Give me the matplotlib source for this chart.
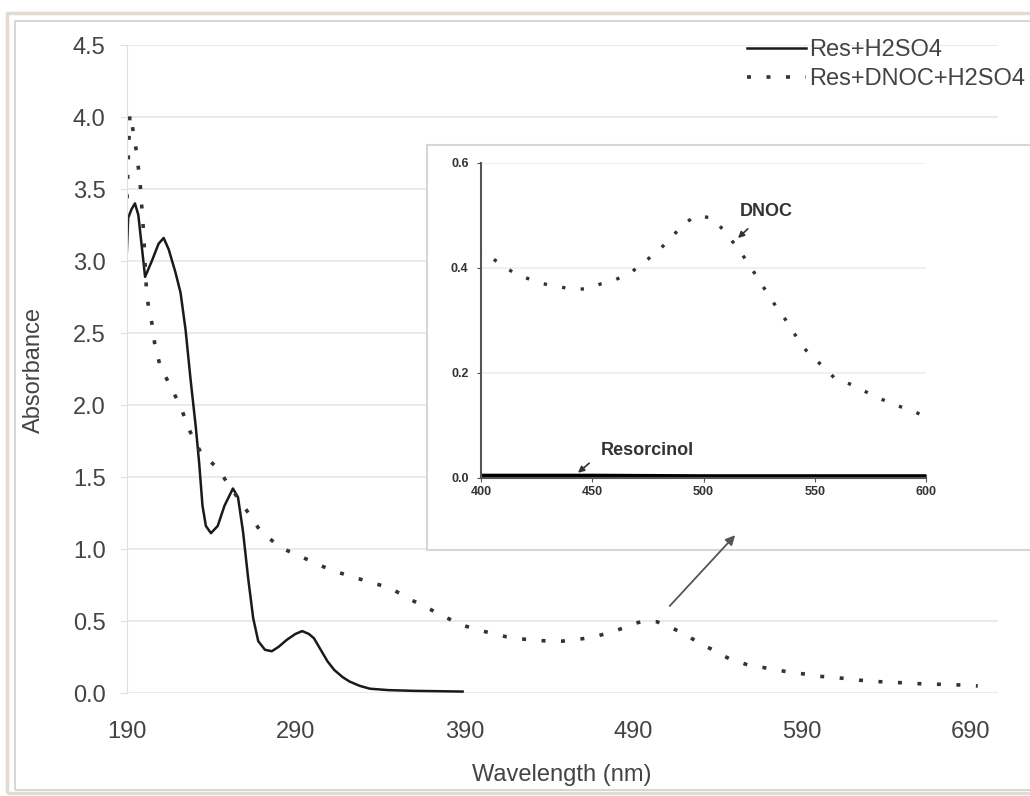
import matplotlib
matplotlib.use("Agg")
from matplotlib import pyplot as plt
from matplotlib.patches import Rectangle

plt.rcParams['font.family'] = ['Liberation Sans', 'DejaVu Sans']

# Res + H2SO4 (solid)
res_nm = [190, 191, 193, 195, 197, 201, 205, 209, 212, 215, 219, 222, 225, 228, 231, 233,
          235, 237, 240, 244, 248, 253, 256, 259, 262, 265, 268, 272, 276, 280, 285, 290,
          294, 298, 301, 305, 309, 313, 318, 322, 328, 334, 345, 360, 389]
res_abs = [3.00, 3.30, 3.36, 3.40, 3.32, 2.89, 3.00, 3.12, 3.16, 3.08, 2.92, 2.78, 2.52, 2.17, 1.85, 1.60,
           1.30, 1.16, 1.11, 1.16, 1.30, 1.42, 1.36, 1.12, 0.80, 0.52, 0.36, 0.30, 0.29, 0.32, 0.37, 0.41,
           0.43, 0.41, 0.38, 0.30, 0.22, 0.16, 0.11, 0.08, 0.05, 0.03, 0.02, 0.015, 0.01]

# Res + DNOC + H2SO4 (dotted)
dnoc_nm = [190, 191, 192, 194, 196, 198, 200, 202, 205, 207, 210, 216, 222, 227, 234, 244, 252,
           261, 269, 281, 291, 302, 312, 323, 334, 346, 358, 370, 380, 389, 401, 408, 415, 421,
           428, 434, 441, 448, 454, 460, 467, 473, 480, 486, 491, 497, 504, 509, 515, 520, 524,
           529, 533, 538, 542, 547, 552, 559, 567, 574, 579, 586, 593, 600, 608, 618, 629, 640,
           651, 662, 673, 683, 694]
dnoc_abs = [3.30, 3.70, 4.02, 3.90, 3.75, 3.55, 3.22, 2.75, 2.57, 2.40, 2.27, 2.13, 1.99, 1.83, 1.67,
            1.56, 1.42, 1.27, 1.13, 1.01, 0.96, 0.90, 0.85, 0.81, 0.77, 0.73, 0.65, 0.58, 0.52, 0.47,
            0.43, 0.41, 0.39, 0.38, 0.37, 0.365, 0.36, 0.36, 0.37, 0.377, 0.39, 0.41, 0.434, 0.46,
            0.484, 0.50, 0.495, 0.472, 0.44, 0.41, 0.383, 0.35, 0.324, 0.295, 0.267, 0.238, 0.219,
            0.19, 0.177, 0.162, 0.152, 0.139, 0.13, 0.116, 0.11, 0.097, 0.083, 0.076, 0.07, 0.063,
            0.06, 0.056, 0.049]

# resorcinol alone in the visible range (inset)
resvis_nm = [400, 450, 500, 550, 600]
resvis_abs = [0.004, 0.004, 0.003, 0.003, 0.003]

main_xticks = [190, 290, 390, 490, 590, 690]
main_yticks = [0.0, 0.5, 1.0, 1.5, 2.0, 2.5, 3.0, 3.5, 4.0, 4.5]
inset_xticks = [400, 450, 500, 550, 600]
inset_yticks = [0.0, 0.2, 0.4, 0.6]

txt = '#444444'
fig = plt.figure(figsize=(10.3, 7.96), dpi=100)

# outer frame of the picture
fig.patches.append(Rectangle((7 / 1030, 3 / 796), 1.05, 780 / 796, transform=fig.transFigure,
                             fill=False, ec='#e2dbd3', lw=2.5, zorder=0))
fig.patches.append(Rectangle((15 / 1030, 6 / 796), 1.05, 769 / 796, transform=fig.transFigure,
                             fill=False, ec='#cfcfcf', lw=1.2, zorder=0))

ax = fig.add_axes([126.5 / 1030, 103 / 796, 871.5 / 1030, 648 / 796])
ax.plot(res_nm, res_abs, color='#1a1a1a', lw=1.8, label='Res+H2SO4')
ax.plot(dnoc_nm, dnoc_abs, color='#333333', lw=2.6, linestyle=(0, (1.1, 4.3)),
        label='Res+DNOC+H2SO4')
ax.set_xlim(190, 706)
ax.set_ylim(0, 4.5)
ax.set_xticks(main_xticks)
ax.set_yticks(main_yticks)
ax.set_yticklabels(['%.1f' % v for v in main_yticks])
ax.grid(axis='y', color='#e6e6e6', lw=1.2)
ax.set_axisbelow(True)
for s in ['top', 'right', 'bottom']:
    ax.spines[s].set_visible(False)
ax.spines['left'].set_color('#e0e0e0')
ax.tick_params(axis='y', length=5, color='#e0e0e0', pad=10, labelsize=17, labelcolor=txt)
ax.tick_params(axis='x', length=0, pad=20, labelsize=17, labelcolor=txt)
ax.set_xlabel('Wavelength (nm)', fontsize=17, color=txt)
ax.xaxis.label.set_va('center')
ax.xaxis.set_label_coords(0.5, -0.126)
ax.set_ylabel('Absorbance', fontsize=17, color=txt)
ax.yaxis.set_label_coords(-0.094, 0.498)

fig.legend(loc='upper left', bbox_to_anchor=(735 / 1030, 769 / 796), frameon=False,
           fontsize=17, handlelength=2.5, handletextpad=0.15, labelspacing=0.3,
           borderpad=0, labelcolor=txt)

# inset box
fig.patches.append(Rectangle((427 / 1030, 246 / 796), 0.6, 405 / 796, transform=fig.transFigure,
                             fc='white', ec='#d6d6d6', lw=1.5, zorder=1))

axi = fig.add_axes([481 / 1030, 318 / 796, 445 / 1030, 315 / 796], zorder=2)
axi.patch.set_alpha(0)
axi.plot(dnoc_nm, dnoc_abs, color='#333333', lw=2.4, linestyle=(0, (1.0, 4.6)))
axi.plot(resvis_nm, resvis_abs, color='black', lw=3.2)
axi.set_xlim(400, 600)
axi.set_ylim(0, 0.6)
axi.set_xticks(inset_xticks)
axi.set_yticks(inset_yticks)
axi.set_yticklabels(['%.1f' % v for v in inset_yticks])
axi.grid(axis='y', color='#eeeeee', lw=1.2)
for s in ['top', 'right']:
    axi.spines[s].set_visible(False)
for s in ['left', 'bottom']:
    axi.spines[s].set_color('#555555')
    axi.spines[s].set_linewidth(1.5)
axi.tick_params(axis='x', direction='inout', length=6, color='#555555', pad=3,
                labelsize=9, labelcolor='#333333')
axi.tick_params(axis='y', direction='out', length=3, color='#555555', pad=6,
                labelsize=9, labelcolor='#333333')
for lab in axi.get_xticklabels() + axi.get_yticklabels():
    lab.set_fontweight('bold')

axi.annotate('DNOC', xy=(515.5, 0.457), xytext=(528, 0.507), ha='center', va='center',
             fontsize=13, fontweight='bold', color='#333333',
             arrowprops=dict(arrowstyle='-|>', color='#333333', lw=1.2, mutation_scale=9,
                             shrinkA=6, shrinkB=0))
axi.annotate('Resorcinol', xy=(443.6, 0.01), xytext=(474.6, 0.053), ha='center', va='center',
             fontsize=13, fontweight='bold', color='#333333',
             arrowprops=dict(arrowstyle='-|>', color='#333333', lw=1.2, mutation_scale=9,
                             shrinkA=8, shrinkB=0, relpos=(0, 0.3)))

# arrow from the main peak up to the inset, drawn above the inset box
axi.annotate('', xy=(551.5, 1.11), xytext=(510.5, 0.59), xycoords=ax.transData,
             textcoords=ax.transData, annotation_clip=False,
             arrowprops=dict(arrowstyle='-|>', color='#555555', lw=1.3, mutation_scale=14))

fig.savefig('out.png', dpi=100)
